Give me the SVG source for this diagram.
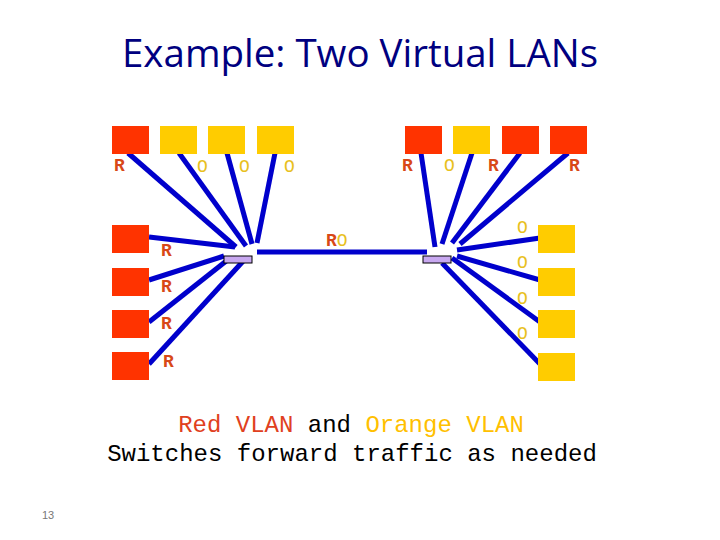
<svg xmlns="http://www.w3.org/2000/svg" width="720" height="540" viewBox="0 0 720 540">
<style>
.red{fill:#FF3300}
.yel{fill:#FFCC00}
.ln{stroke:#0000CC;stroke-width:5;fill:none}
.sw{fill:#C8A8F0;stroke:#000;stroke-width:1}
.lab{font-family:"Liberation Mono",monospace;font-size:18px;font-weight:bold}
.r{fill:#D84818}
.o{fill:#E8C020;font-weight:normal}
.mono{font-family:"Liberation Mono","Courier New",monospace;font-size:24px}
</style>
<rect width="720" height="540" fill="#fff"/>
<text x="360" y="67" text-anchor="middle" font-family="Open Sans, sans-serif" font-size="38" fill="#000080" textLength="476" lengthAdjust="spacingAndGlyphs">Example: Two Virtual LANs</text>

<g id="connectors">
<line class="ln" x1="128" y1="153" x2="236" y2="247"/>
<line class="ln" x1="179" y1="153" x2="246" y2="246"/>
<line class="ln" x1="227" y1="153" x2="252" y2="244"/>
<line class="ln" x1="275" y1="153" x2="257" y2="243"/>
<line class="ln" x1="149" y1="237" x2="235" y2="247"/>
<line class="ln" x1="149" y1="280" x2="224" y2="256"/>
<line class="ln" x1="149" y1="322" x2="230" y2="258"/>
<line class="ln" x1="149" y1="364" x2="246" y2="258"/>
<line class="ln" x1="257" y1="252" x2="427" y2="252"/>
<line class="ln" x1="421" y1="153" x2="435" y2="247"/>
<line class="ln" x1="472" y1="153" x2="442" y2="244"/>
<line class="ln" x1="520" y1="153" x2="452" y2="243"/>
<line class="ln" x1="568" y1="153" x2="460" y2="244"/>
<line class="ln" x1="457" y1="250" x2="540" y2="238"/>
<line class="ln" x1="457" y1="256" x2="540" y2="280"/>
<line class="ln" x1="452" y1="258" x2="540" y2="322"/>
<line class="ln" x1="442" y1="263" x2="540" y2="364"/>
</g>

<g id="switch-left"><rect class="sw" x="224" y="256" width="28" height="7"/></g>
<g id="switch-right"><rect class="sw" x="423" y="256" width="28" height="7"/></g>

<g id="host-tl1"><rect class="red" x="112" y="126" width="37" height="28"/><text class="lab r" x="114" y="171">R</text></g>
<g id="host-tl2"><rect class="yel" x="160" y="126" width="37" height="28"/><text class="lab o" x="197" y="172">O</text></g>
<g id="host-tl3"><rect class="yel" x="208" y="126" width="37" height="28"/><text class="lab o" x="239" y="172">O</text></g>
<g id="host-tl4"><rect class="yel" x="257" y="126" width="37" height="28"/><text class="lab o" x="284" y="172">O</text></g>

<g id="host-l1"><rect class="red" x="112" y="225" width="37" height="28"/><text class="lab r" x="161" y="256">R</text></g>
<g id="host-l2"><rect class="red" x="112" y="268" width="37" height="28"/><text class="lab r" x="161" y="292">R</text></g>
<g id="host-l3"><rect class="red" x="112" y="310" width="37" height="28"/><text class="lab r" x="161" y="329">R</text></g>
<g id="host-l4"><rect class="red" x="112" y="352" width="37" height="28"/><text class="lab r" x="163" y="367">R</text></g>

<g id="host-tr1"><rect class="red" x="405" y="126" width="37" height="28"/><text class="lab r" x="402" y="171">R</text></g>
<g id="host-tr2"><rect class="yel" x="453" y="126" width="37" height="28"/><text class="lab o" x="444" y="171">O</text></g>
<g id="host-tr3"><rect class="red" x="502" y="126" width="37" height="28"/><text class="lab r" x="488" y="171">R</text></g>
<g id="host-tr4"><rect class="red" x="550" y="126" width="37" height="28"/><text class="lab r" x="569" y="171">R</text></g>

<g id="host-r1"><rect class="yel" x="538" y="225" width="37" height="28"/><text class="lab o" x="517" y="233">O</text></g>
<g id="host-r2"><rect class="yel" x="538" y="268" width="37" height="28"/><text class="lab o" x="517" y="268">O</text></g>
<g id="host-r3"><rect class="yel" x="538" y="310" width="37" height="28"/><text class="lab o" x="517" y="304">O</text></g>
<g id="host-r4"><rect class="yel" x="538" y="353" width="37" height="28"/><text class="lab o" x="517" y="339">O</text></g>

<g id="trunk-label"><text class="lab" x="326" y="246"><tspan class="r">R</tspan><tspan class="o">O</tspan></text></g>

<text class="mono" x="351" y="432" text-anchor="middle"><tspan fill="#E04020">Red VLAN</tspan> <tspan fill="#000">and</tspan> <tspan fill="#FFC000">Orange VLAN</tspan></text>
<text class="mono" x="352" y="461" text-anchor="middle" fill="#000">Switches forward traffic as needed</text>
<text x="48" y="519" text-anchor="middle" font-family="Liberation Sans, sans-serif" font-size="11" fill="#777">13</text>
</svg>
